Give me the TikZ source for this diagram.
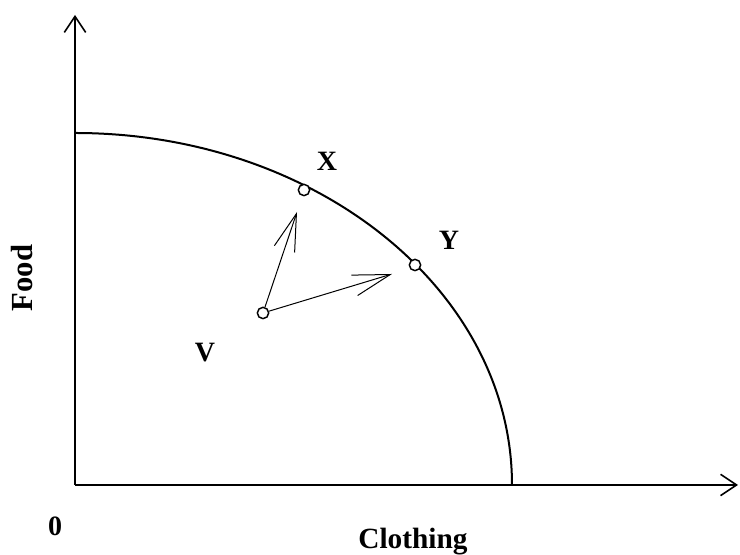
\documentclass[tikz,border=0pt]{standalone}
\usepackage{fontspec}
\setmainfont{Liberation Serif}
\usetikzlibrary{arrows.meta, positioning}

\begin{document}
\begin{tikzpicture}[
    x=0.75pt, y=0.75pt,
    axis/.style={line width=1.5pt, -{Straight Barb[length=12pt, width=16pt, line width=1.2pt]}},
    frontier/.style={line width=1.5pt},
    move/.style={line width=0.75pt, -{Straight Barb[length=28pt, width=16pt, line width=0.75pt]}},
    point/.style={circle, draw=black, fill=white, line width=1.1pt, minimum size=8.5pt, inner sep=0pt},
    label/.style={font=\fontsize{#1}{24}\selectfont\bfseries},
    label/.default={21}
]
\useasboundingbox (0,0) rectangle (740,555);

% === EJES ===
\coordinate (origin) at (75,70);
\coordinate (ytop) at (75,540);
\coordinate (xend) at (738,70);
\draw[axis] (origin) -- (ytop);
\draw[axis] (origin) -- (xend);

% === FRONTERA ===
\coordinate (fstart) at (75,422);
\draw[frontier] (fstart) arc[start angle=90, end angle=0, x radius=437, y radius=352];

% === PUNTOS ===
\node[point] (px) at (304,365) {};
\node[point] (py) at (415,290) {};
\node[point] (pv) at (263,242) {};

% === FLECHAS ===
\coordinate (tipx) at (297,343);
\coordinate (tipy) at (392,281);
\draw[move] (pv) -- (tipx);
\draw[move] (pv) -- (tipy);

% === ETIQUETAS ===
\node[label] (lx) at (327,394) {X};
\node[label] (ly) at (449,315) {Y};
\node[label] (lv) at (205,202) {V};
\node[label] (lzero) at (55,29) {0};
\node[label=22, anchor=base] (lclothing) at (413,6) {Clothing};
\node[label=23, rotate=90] (lfood) at (22,277) {Food};

\end{tikzpicture}
\end{document}
